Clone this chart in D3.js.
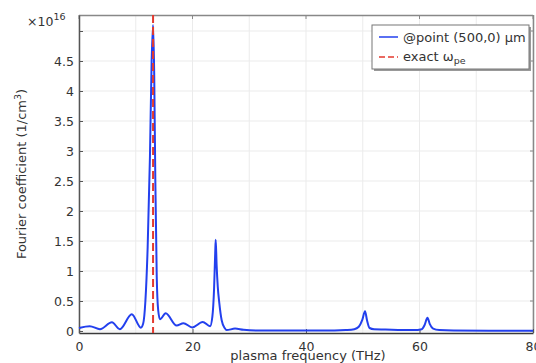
<!DOCTYPE html>
<html><head><meta charset="utf-8">
<script src="https://cdn.jsdelivr.net/npm/d3@7"></script>
<style>body{margin:0;background:#fff}svg{display:block}text{font-family:"DejaVu Sans",sans-serif;fill:#333}</style>
</head><body><svg id="c" width="536" height="363"></svg>
<script>
const freq = [0,0.2,1.9,3.7,5.8,7.2,9.3,10.9,11.3,11.7,12.1,12.5,12.8,13.05,13.25,13.45,13.7,13.95,14.27,15.28,17.2,18.4,19.96,21.8,23.1,23.5,23.8,24.0,24.09,24.25,24.45,24.72,25.14,25.7,26.0,27.5,29,32,40,45,47,48.5,49.3,49.9,50.4,50.75,51.2,52,54,57,59,60.4,60.9,61.4,61.8,62.4,63.5,66,80];
const coef = [0.05,0.055,0.08,0.03,0.145,0.03,0.28,0.055,0.12,0.5,1.4,2.9,4.5,5.1,4.3,2.5,0.9,0.35,0.195,0.295,0.09,0.13,0.06,0.15,0.08,0.24,0.7,1.3,1.52,1.1,0.74,0.47,0.18,0.045,0.015,0.04,0.02,0.008,0.008,0.008,0.015,0.03,0.07,0.18,0.33,0.18,0.05,0.03,0.025,0.015,0.015,0.03,0.1,0.22,0.12,0.04,0.015,0.008,0.005];
const omegaPe = 13.05;
const xTicks = [0,20,40,60,80];
const xGrid = [0,10,20,30,40,50,60,70,80];
const yTicks = [0,0.5,1,1.5,2,2.5,3,3.5,4,4.5,5];
const yLabels = ["0","0.5","1","1.5","2","2.5","3","3.5","4","4.5",""];

const svg = d3.select("#c");
const L=79,R=533,T=15,B=333;
const x = d3.scaleLinear().domain([0,80]).range([L,R]);
const y = d3.scaleLinear().domain([-0.0333,5.2667]).range([B,T]);

// grid
svg.append("g").selectAll("line").data(xGrid).join("line")
 .attr("x1",d=>x(d)).attr("x2",d=>x(d)).attr("y1",T).attr("y2",B)
 .attr("stroke","#ebebeb").attr("stroke-width",1);
svg.append("g").selectAll("line").data(yTicks).join("line")
 .attr("x1",L).attr("x2",R).attr("y1",d=>y(d)).attr("y2",d=>y(d))
 .attr("stroke","#ebebeb").attr("stroke-width",1);

// frame top/right
svg.append("line").attr("x1",L).attr("x2",R).attr("y1",T+0.5).attr("y2",T+0.5).attr("stroke","#888").attr("stroke-width",1.5);
svg.append("line").attr("x1",R+0.5).attr("x2",R+0.5).attr("y1",T).attr("y2",B).attr("stroke","#888").attr("stroke-width",1.5);
svg.append("g").selectAll("line").data(xTicks).join("line")
 .attr("x1",d=>x(d)).attr("x2",d=>x(d)).attr("y1",T).attr("y2",T+4).attr("stroke","#888");
svg.append("g").selectAll("line").data(yTicks).join("line")
 .attr("x1",R-3).attr("x2",R).attr("y1",d=>y(d)).attr("y2",d=>y(d)).attr("stroke","#888");

// axes
const xAxis = d3.axisBottom(x).tickValues(xTicks).tickSizeInner(-4).tickSizeOuter(0).tickPadding(9);
const gx = svg.append("g").attr("transform",`translate(0,${B})`).call(xAxis);
gx.select(".domain").attr("stroke","#3a3a3a").attr("stroke-width",1.5);
gx.selectAll(".tick line").attr("stroke","#555");
gx.selectAll("text").style("font-size","12.5px").attr("fill","#333").style("font-family","DejaVu Sans");

const yAxis = d3.axisLeft(y).tickValues(yTicks).tickFormat((d,i)=>yLabels[i]).tickSizeInner(-4).tickSizeOuter(0).tickPadding(5);
const gy = svg.append("g").attr("transform",`translate(${L},0)`).call(yAxis);
gy.select(".domain").attr("stroke","#555").attr("stroke-width",1.5);
gy.selectAll(".tick line").attr("stroke","#555");
gy.selectAll("text").style("font-size","12.5px").attr("fill","#333").style("font-family","DejaVu Sans");

// curve
const pts = freq.map((f,i)=>[f,coef[i]]);
const line = d3.line().x(d=>x(d[0])).y(d=>y(d[1])).curve(d3.curveMonotoneX);
svg.append("path").datum(pts).attr("d",line).attr("fill","none").attr("stroke","#2340ee").attr("stroke-width",2);

// omega_pe
svg.append("line").attr("x1",x(omegaPe)).attr("x2",x(omegaPe)).attr("y1",T).attr("y2",B)
 .attr("stroke","#e33a2f").attr("stroke-width",2).attr("stroke-dasharray","8,4");

// multiplier
const m = svg.append("text").attr("x",27).attr("y",26).style("font-size","12.5px");
m.append("tspan").text("×10");
m.append("tspan").attr("dy",-6).style("font-size","9.5px").text("16");

// labels
svg.append("text").attr("x",308).attr("y",360).attr("text-anchor","middle").style("font-size","13px").text("plasma frequency (THz)");
const yl = svg.append("text").attr("transform","translate(26,174) rotate(-90)").attr("text-anchor","middle").style("font-size","13px");
yl.append("tspan").text("Fourier coefficient (1/cm");
yl.append("tspan").attr("dy",-5).style("font-size","9.5px").text("3");
yl.append("tspan").attr("dy",5).text(")");

// legend
const lg = svg.append("g");
lg.append("rect").attr("x",374).attr("y",27).attr("width",157).attr("height",44).attr("fill","#999");
lg.append("rect").attr("x",372).attr("y",25).attr("width",157).attr("height",44).attr("fill","#fff").attr("stroke","#777").attr("stroke-width",1);
lg.append("line").attr("x1",379).attr("x2",398).attr("y1",37).attr("y2",37).attr("stroke","#2340ee").attr("stroke-width",1.5);
lg.append("line").attr("x1",379).attr("x2",398).attr("y1",57).attr("y2",57).attr("stroke","#e33a2f").attr("stroke-width",1.5).attr("stroke-dasharray","6,3");
lg.append("text").attr("x",403).attr("y",42).style("font-size","13px").text("@point (500,0) μm");
const t2 = lg.append("text").attr("x",403).attr("y",61).style("font-size","13px");
t2.append("tspan").text("exact ω");
t2.append("tspan").attr("dy",3).style("font-size","9.5px").text("pe");
</script></body></html>
